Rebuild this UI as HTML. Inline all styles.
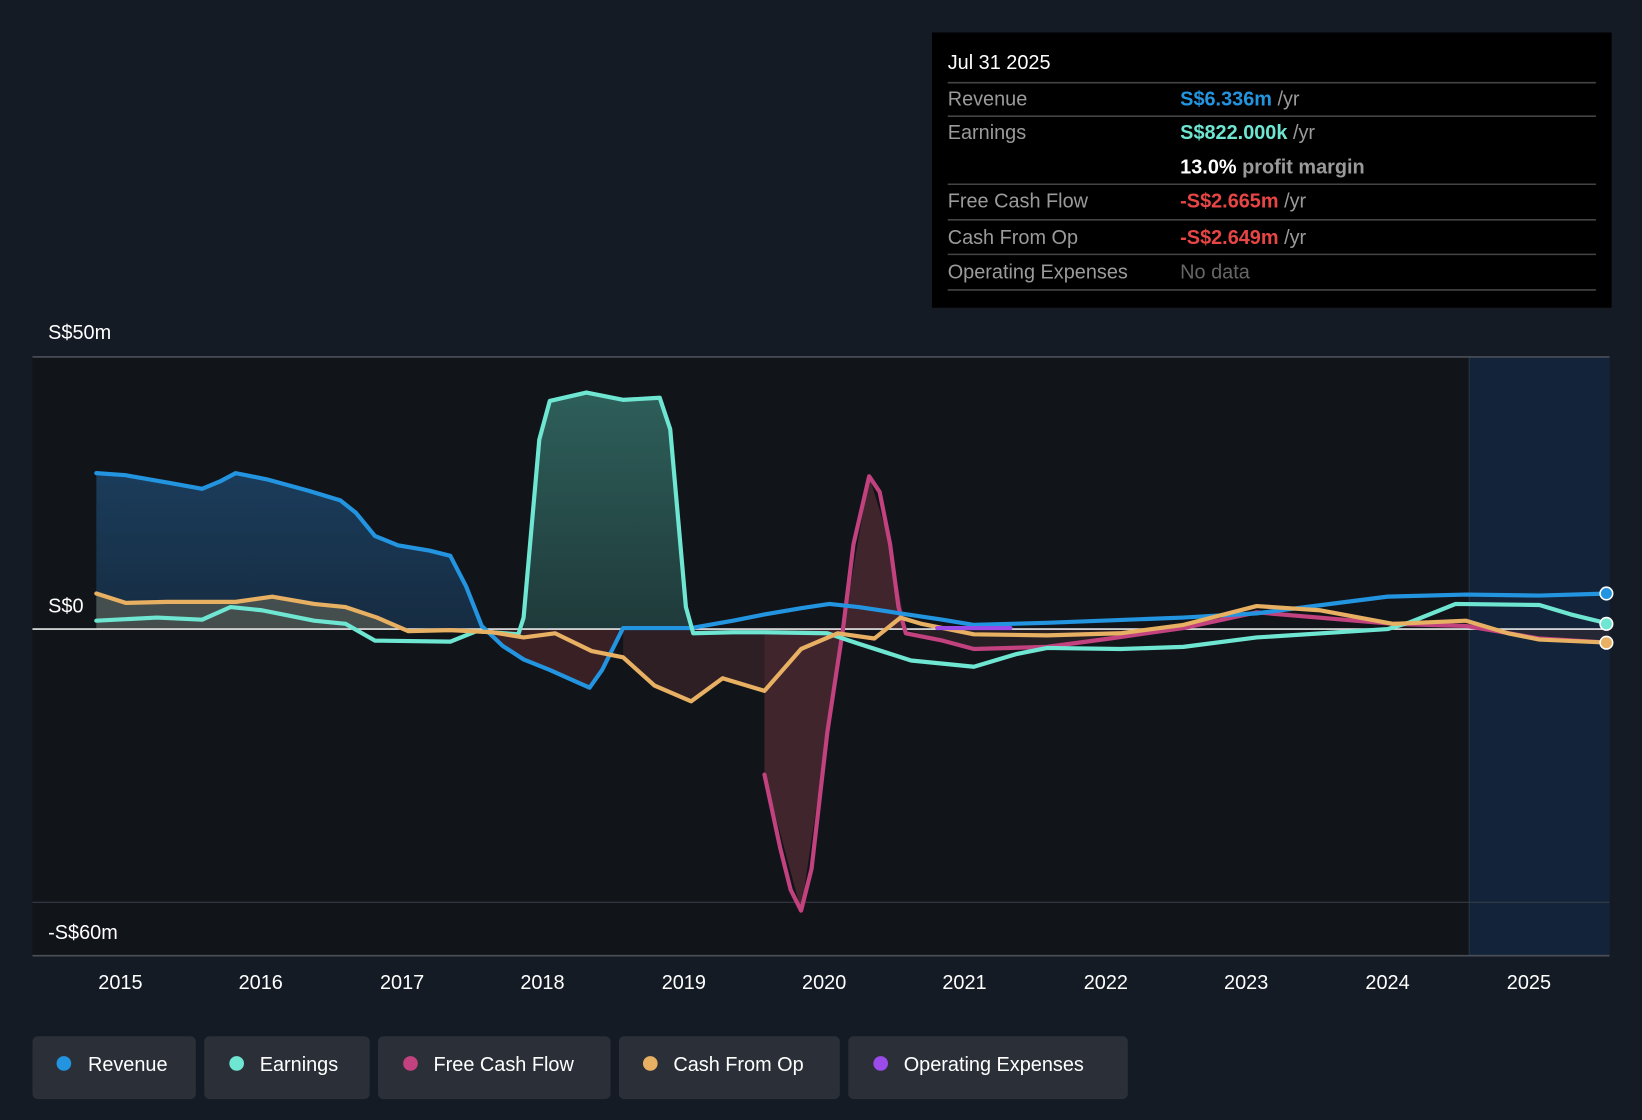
<!DOCTYPE html>
<html><head><meta charset="utf-8"><style>
html,body{margin:0;padding:0;background:#151b24;}
svg{display:block;font-family:"Liberation Sans",sans-serif;}
</style></head><body>
<svg width="1642" height="1120" viewBox="0 0 1568 1070" preserveAspectRatio="none">
<defs>
<linearGradient id="rg" x1="0" y1="0" x2="0" y2="1"><stop offset="0" stop-color="#1c4366"/><stop offset="1" stop-color="#173049"/></linearGradient>
<linearGradient id="eg" x1="0" y1="0" x2="0" y2="1"><stop offset="0" stop-color="#2e5f5a"/><stop offset="1" stop-color="#1f3a3a"/></linearGradient>
</defs>
<rect width="1568" height="1070" fill="#151b24"/>
<rect x="31" y="341" width="1372" height="572" fill="#111419"/>
<rect x="1403" y="341" width="134" height="572" fill="#13243a"/>
<line x1="1403" y1="341" x2="1403" y2="913" stroke="#2a3545" stroke-width="1"/>
<line x1="31" y1="341" x2="1537" y2="341" stroke="#4a4f58" stroke-width="1.5"/>
<line x1="31" y1="862" x2="1537" y2="862" stroke="#3a3f48" stroke-width="1"/>
<line x1="31" y1="913" x2="1537" y2="913" stroke="#4a4f58" stroke-width="1.5"/>
<text x="46" y="324" fill="#fff" font-size="19">S$50m</text>
<text x="46" y="585" fill="#fff" font-size="19">S$0</text>
<text x="46" y="897" fill="#fff" font-size="19">-S$60m</text>

<!-- fills -->
<polygon fill="url(#rg)" opacity="0.85" points="92,601 92,452 120,454 160,461 193,467 225,452 255,458 295,469 325,478 340,490 358,512 380,521 410,526 430,531 445,560 460,601"/>
<polygon fill="url(#eg)" points="500,601 500,590 515,420 525,383 560,375 595,382 630,380 640,410 655,580 662,601"/>
<polygon fill="#7a3a45" opacity="0.45" points="730,601 730,740 765,870 790,700 805,601"/>
<polygon fill="#7a3a45" opacity="0.45" points="805,601 830,455 850,520 865,601"/>
<polygon fill="#5a2a30" opacity="0.55" points="460,601 480,617 500,630 525,640 545,649 563,657 575,640 595,601"/>
<polygon fill="#4a2a30" opacity="0.5" points="595,601 595,628 625,655 660,670 690,648 730,660 730,601"/>
<polygon fill="#3a2a30" opacity="0.5" points="865,601 900,612 930,620 1000,618 1060,610 1130,601"/>
<polygon fill="#3a2a30" opacity="0.5" points="1330,601 1400,598 1440,605 1470,611 1537,614 1537,601"/>
<polygon fill="#6b6a55" opacity="0.55" points="92,601 92,567 120,576 160,575 225,575 260,570 300,577 330,580 360,590 390,601"/>
<line x1="31" y1="601" x2="1537" y2="601" stroke="#e8e8e8" stroke-width="1.5"/>

<g fill="none" stroke-width="4" stroke-linejoin="round" stroke-linecap="round">
<polyline stroke="#c2417f" points="730,740 745,810 755,850 765,870 775,830 790,700 805,601 815,520 830,455 840,470 850,520 858,580 865,605 900,612 930,620 1000,618 1060,610 1130,600 1200,585 1330,596 1400,598 1470,610 1537,614"/>
<polyline stroke="#2394e0" points="92,452 120,454 160,461 193,467 210,460 225,452 255,458 295,469 325,478 340,490 358,512 380,521 410,526 430,531 445,560 460,598 480,617 500,630 525,640 545,649 563,657 575,640 595,600 660,600 700,593 730,587 765,581 792,577 820,580 860,586 900,592 930,597 1000,595 1130,590 1200,586 1325,570 1400,568 1470,569 1537,567"/>
<polyline stroke="#6ee6d2" points="92,593 150,590 193,592 220,580 250,583 300,593 330,596 358,612 430,613 455,603 495,606 500,590 515,420 525,383 560,375 595,382 630,380 640,410 655,580 662,605 700,604 730,604 790,605 820,615 870,631 930,637 970,625 1000,619 1070,620 1130,618 1200,609 1325,601 1345,595 1390,577 1470,578 1500,587 1537,596"/>
<polyline stroke="#e8b062" points="92,567 120,576 160,575 225,575 260,570 300,577 330,580 360,590 390,603 430,602 470,604 500,609 530,605 565,622 595,628 625,655 660,670 690,648 730,660 765,620 800,605 835,610 860,590 880,596 930,606 1000,607 1070,605 1130,597 1200,579 1260,583 1330,596 1400,593 1440,605 1470,611 1537,614"/>
<polyline stroke="#9b4be8" points="895,600 965,600"/>
</g>
<circle cx="1534" cy="567" r="6" fill="#2394e0" stroke="#fff" stroke-width="1.5"/>
<circle cx="1534" cy="596" r="6" fill="#6ee6d2" stroke="#fff" stroke-width="1.5"/>
<circle cx="1534" cy="614" r="6" fill="#e8b062" stroke="#fff" stroke-width="1.5"/>

<g fill="#fff" font-size="19" text-anchor="middle">
<text x="115" y="945">2015</text><text x="249" y="945">2016</text><text x="384" y="945">2017</text><text x="518" y="945">2018</text><text x="653" y="945">2019</text><text x="787" y="945">2020</text><text x="921" y="945">2021</text><text x="1056" y="945">2022</text><text x="1190" y="945">2023</text><text x="1325" y="945">2024</text><text x="1460" y="945">2025</text>
</g>

<!-- tooltip -->
<rect x="890" y="31" width="649" height="263" fill="#000"/>
<g stroke="#444" stroke-width="1.5">
<line x1="905" y1="79" x2="1524" y2="79"/><line x1="905" y1="111" x2="1524" y2="111"/><line x1="905" y1="176" x2="1524" y2="176"/><line x1="905" y1="210" x2="1524" y2="210"/><line x1="905" y1="243" x2="1524" y2="243"/><line x1="905" y1="277" x2="1524" y2="277"/>
</g>
<g font-size="19">
<text x="905" y="66" fill="#fff">Jul 31 2025</text>
<text x="905" y="101" fill="#9a9a9a">Revenue</text>
<text x="905" y="133" fill="#9a9a9a">Earnings</text>
<text x="905" y="198" fill="#9a9a9a">Free Cash Flow</text>
<text x="905" y="233" fill="#9a9a9a">Cash From Op</text>
<text x="905" y="266" fill="#9a9a9a">Operating Expenses</text>
<text x="1127" y="101" fill="#2394e0" font-weight="bold">S$6.336m <tspan fill="#9a9a9a" font-weight="normal">/yr</tspan></text>
<text x="1127" y="133" fill="#6ee6d2" font-weight="bold">S$822.000k <tspan fill="#9a9a9a" font-weight="normal">/yr</tspan></text>
<text x="1127" y="166" fill="#fff" font-weight="bold">13.0% <tspan fill="#9a9a9a">profit margin</tspan></text>
<text x="1127" y="198" fill="#e84545" font-weight="bold">-S$2.665m <tspan fill="#9a9a9a" font-weight="normal">/yr</tspan></text>
<text x="1127" y="233" fill="#e84545" font-weight="bold">-S$2.649m <tspan fill="#9a9a9a" font-weight="normal">/yr</tspan></text>
<text x="1127" y="266" fill="#666">No data</text>
</g>

<!-- legend -->
<g font-size="19" fill="#fff">
<rect x="31" y="990" width="156" height="60" rx="5" fill="#2a2f38"/><circle cx="61" cy="1016" r="7" fill="#2394e0"/><text x="84" y="1023">Revenue</text>
<rect x="195" y="990" width="158" height="60" rx="5" fill="#2a2f38"/><circle cx="226" cy="1016" r="7" fill="#6ee6d2"/><text x="248" y="1023">Earnings</text>
<rect x="361" y="990" width="222" height="60" rx="5" fill="#2a2f38"/><circle cx="392" cy="1016" r="7" fill="#c2417f"/><text x="414" y="1023">Free Cash Flow</text>
<rect x="591" y="990" width="211" height="60" rx="5" fill="#2a2f38"/><circle cx="621" cy="1016" r="7" fill="#e8b062"/><text x="643" y="1023">Cash From Op</text>
<rect x="810" y="990" width="267" height="60" rx="5" fill="#2a2f38"/><circle cx="841" cy="1016" r="7" fill="#9b4be8"/><text x="863" y="1023">Operating Expenses</text>
</g>
</svg>
</body></html>
